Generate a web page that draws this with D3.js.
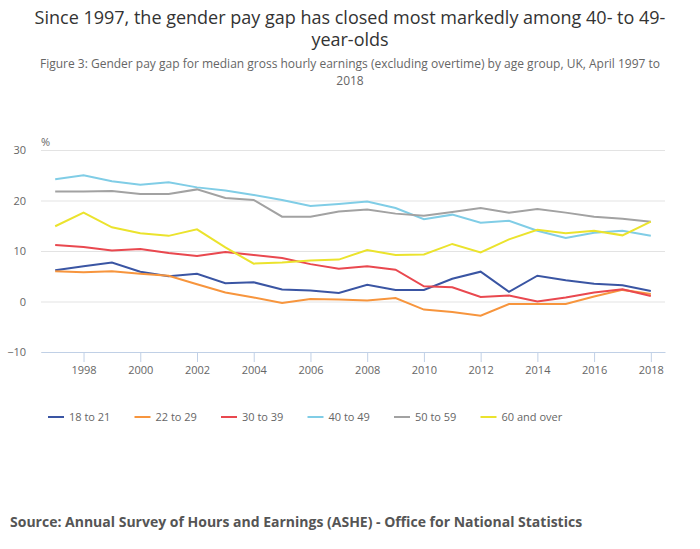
<!DOCTYPE html>
<html>
<head>
<meta charset="utf-8">
<style>
  body { margin: 0; background: #fff; }
  text { font-family: "Open Sans", sans-serif; }
</style>
</head>
<body>
<svg id="chart" width="700" height="549"></svg>
<script src="https://d3js.org/d3.v7.min.js"></script>
<script>
// data
const years = [1997, 1998, 1999, 2000, 2001, 2002, 2003, 2004, 2005, 2006, 2007,
               2008, 2009, 2010, 2011, 2012, 2013, 2014, 2015, 2016, 2017, 2018];
const seriesNames = ['18 to 21', '22 to 29', '30 to 39', '40 to 49', '50 to 59', '60 and over'];
const age18to21 = [6.2, 7.0, 7.7, 5.9, 5.0, 5.5, 3.6, 3.8, 2.4, 2.2, 1.7, 3.3, 2.3, 2.3, 4.5, 5.9, 1.9, 5.1, 4.2, 3.5, 3.2, 2.1];
const age22to29 = [6.0, 5.8, 6.0, 5.5, 5.1, 3.4, 1.8, 0.8, -0.3, 0.5, 0.4, 0.2, 0.7, -1.6, -2.1, -2.8, -0.5, -0.5, -0.5, 1.0, 2.3, 1.5];
const age30to39 = [11.2, 10.8, 10.1, 10.4, 9.6, 9.0, 9.8, 9.2, 8.6, 7.4, 6.5, 7.0, 6.3, 3.0, 2.8, 0.9, 1.2, 0.0, 0.8, 1.8, 2.4, 1.1];
const age40to49 = [24.2, 25.0, 23.8, 23.1, 23.6, 22.6, 22.0, 21.1, 20.1, 18.9, 19.3, 19.8, 18.5, 16.3, 17.2, 15.6, 16.0, 14.0, 12.6, 13.6, 14.0, 13.0];
const age50to59 = [21.8, 21.8, 21.9, 21.3, 21.3, 22.2, 20.5, 20.1, 16.8, 16.8, 17.8, 18.2, 17.4, 17.0, 17.7, 18.5, 17.6, 18.3, 17.6, 16.8, 16.4, 15.8];
const age60plus = [14.9, 17.6, 14.7, 13.5, 13.0, 14.3, 10.7, 7.5, 7.7, 8.1, 8.3, 10.2, 9.2, 9.3, 11.4, 9.7, 12.3, 14.2, 13.5, 14.0, 13.1, 15.8];
const yTicks = [-10, 0, 10, 20, 30];
const xTicks = [1998, 2000, 2002, 2004, 2006, 2008, 2010, 2012, 2014, 2016, 2018];
const colors = ['#3a55a3', '#f7953d', '#e9484f', '#80cde6', '#a2a2a2', '#ebe32d'];

const allSeries = [age18to21, age22to29, age30to39, age40to49, age50to59, age60plus];

const svg = d3.select('#chart');
const margin = {top: 150, right: 35, bottom: 197, left: 41};
const width = 700 - margin.left - margin.right;
const height = 549 - margin.top - margin.bottom;

// titles
svg.append('text')
   .attr('x', 350).attr('y', 24)
   .attr('text-anchor', 'middle')
   .attr('font-size', 18).attr('fill', '#333')
   .text('Since 1997, the gender pay gap has closed most markedly among 40- to 49-');
svg.append('text')
   .attr('x', 350).attr('y', 46)
   .attr('text-anchor', 'middle')
   .attr('font-size', 18).attr('fill', '#333')
   .text('year-olds');
svg.append('text')
   .attr('x', 350).attr('y', 68)
   .attr('text-anchor', 'middle')
   .attr('font-size', 12).attr('fill', '#666')
   .text('Figure 3: Gender pay gap for median gross hourly earnings (excluding overtime) by age group, UK, April 1997 to');
svg.append('text')
   .attr('x', 350).attr('y', 85)
   .attr('text-anchor', 'middle')
   .attr('font-size', 12).attr('fill', '#666')
   .text('2018');

const g = svg.append('g')
             .attr('transform', `translate(${margin.left}, ${margin.top})`);

const x = d3.scaleLinear()
            .domain([1996.5, 2018.5])
            .range([0, width]);
const y = d3.scaleLinear()
            .domain([-10, 30])
            .range([height, 0]);

// grid + y labels
const yAxis = d3.axisLeft(y)
                .tickValues(yTicks)
                .tickSize(-width)
                .tickPadding(15);
const yG = g.append('g').call(yAxis);
yG.select('.domain').remove();
yG.selectAll('line').attr('stroke', '#e3e3e3');
yG.selectAll('text').attr('font-size', 11).attr('fill', '#666')
  .attr('font-family', '"Open Sans", sans-serif');

g.append('text')
 .attr('x', 0).attr('y', -4)
 .attr('font-size', 11).attr('fill', '#666')
 .text('%');

// x axis
const xAxis = d3.axisBottom(x)
                .tickValues(xTicks)
                .tickFormat(d3.format('d'))
                .tickSize(10)
                .tickSizeOuter(0)
                .tickPadding(4);
const xG = g.append('g')
            .attr('transform', `translate(0, ${height})`)
            .call(xAxis);
xG.select('.domain').attr('stroke', '#c0d0e6');
xG.selectAll('line').attr('stroke', '#c0d0e6');
xG.selectAll('text').attr('font-size', 11).attr('fill', '#666')
  .attr('font-family', '"Open Sans", sans-serif');

// lines
const line = d3.line()
               .x((d, i) => x(years[i]))
               .y(d => y(d));

g.append('g')
 .selectAll('path')
 .data(allSeries)
 .enter()
 .append('path')
 .attr('d', d => line(d))
 .attr('fill', 'none')
 .attr('stroke', (d, i) => colors[i])
 .attr('stroke-width', 2);

// legend
const legend = svg.append('g')
                  .attr('transform', 'translate(48, 417)');
const item = legend.selectAll('g')
                   .data(seriesNames)
                   .enter()
                   .append('g')
                   .attr('transform', (d, i) => `translate(${i * 86.5}, 0)`);
item.append('line')
    .attr('x1', 0).attr('x2', 16)
    .attr('y1', 0).attr('y2', 0)
    .attr('stroke', (d, i) => colors[i])
    .attr('stroke-width', 2);
item.append('text')
    .attr('x', 21).attr('y', 4)
    .attr('font-size', 11).attr('fill', '#666')
    .text(d => d);

// source
svg.append('text')
   .attr('x', 10).attr('y', 527)
   .attr('font-size', 14).attr('font-weight', 'bold').attr('fill', '#555')
   .text('Source: Annual Survey of Hours and Earnings (ASHE) - Office for National Statistics');
</script>
</body>
</html>
